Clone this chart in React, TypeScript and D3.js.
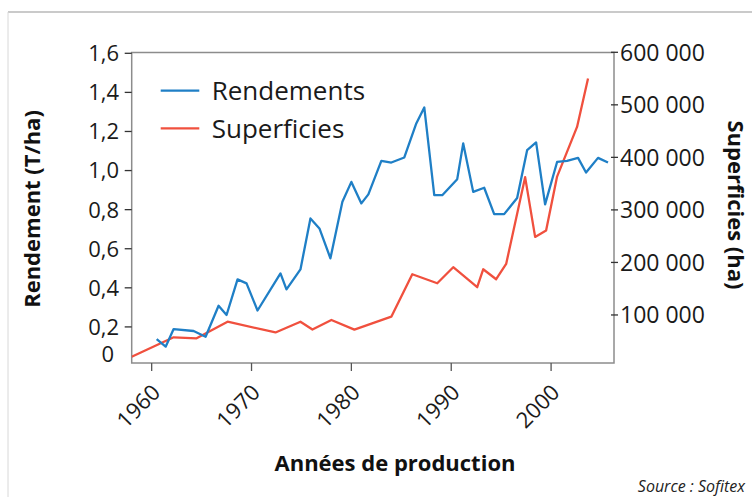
import React from 'react';
import {scaleLinear, line, formatLocale} from 'd3';

// Rendements (T/ha), vertices (years as plotted)
const rendYears = [
  1960.5, 1961.4, 1962.2, 1964.2, 1965.4, 1966.7, 1967.5, 1968.6, 1969.5, 1970.6,
  1972.9, 1973.5, 1974.9, 1975.9, 1976.8, 1977.9, 1979.1, 1980.0, 1981.0, 1981.7,
  1983.0, 1984.0, 1985.3, 1986.5, 1987.3, 1988.3, 1989.1, 1990.6, 1991.2, 1992.2,
  1993.3, 1994.3, 1995.3, 1996.6, 1997.6, 1998.5, 1999.4, 2000.6, 2001.6, 2002.7,
  2003.5, 2004.7, 2005.7,
];
const rendValues = [
  0.137, 0.099, 0.189, 0.179, 0.15, 0.308, 0.261, 0.443, 0.423, 0.284,
  0.474, 0.392, 0.494, 0.755, 0.704, 0.551, 0.84, 0.942, 0.832, 0.878,
  1.05, 1.041, 1.067, 1.241, 1.323, 0.874, 0.874, 0.956, 1.139, 0.891,
  0.912, 0.777, 0.777, 0.86, 1.104, 1.144, 0.827, 1.044, 1.05, 1.065,
  0.99, 1.065, 1.041,
];

// Superficies (ha)
const supYears = [
  1958.0, 1962.2, 1964.5, 1967.6, 1972.4, 1974.9, 1976.1, 1978.0, 1980.3, 1984.0,
  1986.1, 1988.6, 1990.2, 1992.6, 1993.2, 1994.5, 1995.5, 1997.4, 1998.4, 1999.5,
  2000.6, 2002.6, 2003.7,
];
const supValues = [
  20600, 57500, 55600, 87200, 66700, 87200, 72400, 90500, 72000, 96800,
  177500, 160400, 190900, 152800, 187000, 168000, 197100, 362300, 248600, 260600,
  363400, 458000, 550000,
];

const xTicks = [1960, 1970, 1980, 1990, 2000];
const leftTicks = [0, 0.2, 0.4, 0.6, 0.8, 1.0, 1.2, 1.4, 1.6];
const rightTicks = [100000, 200000, 300000, 400000, 500000, 600000];

const seriesNames = ['Rendements', 'Superficies'];
const blue = '#1f7fc6';
const red = '#f0503e';

const width = 752;
const height = 497;
const plot = {left: 131.7, right: 614, top: 52.5, bottom: 363};

const font = '"Open Sans", sans-serif';
const frFormat = formatLocale({decimal: ',', thousands: ' ', grouping: [3], currency: ['', '€']});
const fmtLeft = frFormat.format('.1f');
const fmtRight = frFormat.format(',d');

export default function App() {
  const x = scaleLinear().domain([1958, 2006.3]).range([plot.left, plot.right]);
  const yL = scaleLinear().domain([0, 1.6]).range([366, 53.3]);
  const yR = scaleLinear().domain([0, 600000]).range([367.5, 52.3]);

  const rendLine = line<number>()
    .x((d, i) => x(rendYears[i]))
    .y((d) => yL(d));
  const supLine = line<number>()
    .x((d, i) => x(supYears[i]))
    .y((d) => yR(d));

  return (
    <svg
      width={width}
      height={height}
      style={{position: 'absolute', left: 0, top: 0, background: '#fff'}}
      fontFamily={font}
    >
      <defs>
        <clipPath id="plotClip">
          <rect x={plot.left} y={plot.top} width={plot.right - plot.left} height={plot.bottom - plot.top} />
        </clipPath>
      </defs>

      {/* page frame */}
      <line x1={8} y1={12} x2={width} y2={12} stroke="#b8b8b8" strokeWidth={1.5} />
      <line x1={8} y1={12} x2={8} y2={height} stroke="#d8d8d8" strokeWidth={1} />

      {/* plot frame */}
      <rect
        x={plot.left}
        y={plot.top}
        width={plot.right - plot.left}
        height={plot.bottom - plot.top}
        fill="none"
        stroke="#8c8c8c"
        strokeWidth={1.5}
      />

      {/* left axis */}
      {leftTicks.map((v) => (
        <g key={v}>
          {v > 0 && (
            <line x1={plot.left - 7} x2={plot.left} y1={yL(v)} y2={yL(v)} stroke="#333" strokeWidth={1.3} />
          )}
          <text
            x={v === 0 ? 114 : 119}
            y={v === 0 ? yL(0) - 12 : yL(v)}
            dy="0.36em"
            textAnchor="end"
            fontSize={22}
            fill="#1a1a1a"
          >{v === 0 ? '0' : fmtLeft(v)}</text>
        </g>
      ))}

      {/* right axis */}
      {rightTicks.map((v) => (
        <g key={v}>
          <line x1={plot.right - 3} x2={plot.right + 4} y1={yR(v)} y2={yR(v)} stroke="#333" strokeWidth={1.3} />
          <text x={plot.right + 6} y={yR(v)} dy="0.36em" fontSize={23} fill="#1a1a1a">{fmtRight(v)}</text>
        </g>
      ))}

      {/* bottom axis */}
      {xTicks.map((t) => (
        <g key={t}>
          <line x1={x(t)} x2={x(t)} y1={plot.bottom} y2={plot.bottom + 8} stroke="#555" strokeWidth={1.3} />
          <text
            transform={`translate(${x(t) - 13.5}, 406) rotate(-45)`}
            textAnchor="middle"
            dy="0.36em"
            fontSize={22}
            fill="#1a1a1a"
          >{t}</text>
        </g>
      ))}

      {/* series */}
      <g clipPath="url(#plotClip)">
        <path d={supLine(supValues) ?? ''} fill="none" stroke={red} strokeWidth={2.3} strokeLinejoin="round" />
        <path d={rendLine(rendValues) ?? ''} fill="none" stroke={blue} strokeWidth={2.3} strokeLinejoin="round" />
      </g>

      {/* legend */}
      {seriesNames.map((name, i) => (
        <g key={name} transform={`translate(0, ${90.7 + i * 37.6})`}>
          <line x1={160.7} x2={199.3} y1={0} y2={0} stroke={i === 0 ? blue : red} strokeWidth={2.3} />
          <text x={211.7} y={0} dy="0.36em" fontSize={26} fill="#1a1a1a">{name}</text>
        </g>
      ))}

      {/* axis titles */}
      <text
        transform="translate(31.7, 209) rotate(-90)"
        textAnchor="middle"
        dy="0.36em"
        fontSize={22}
        fontWeight="bold"
        fill="#111"
      >Rendement (T/ha)</text>
      <text
        transform="translate(736, 205) rotate(90)"
        textAnchor="middle"
        dy="0.36em"
        fontSize={22}
        fontWeight="bold"
        fill="#111"
      >Superficies (ha)</text>
      <text x={395} y={471} textAnchor="middle" fontSize={22} fontWeight="bold" fill="#111">Années de production</text>
      <text x={745} y={492} textAnchor="end" fontSize={16} fontStyle="italic" fill="#222">Source : Sofitex</text>
    </svg>
  );
}
